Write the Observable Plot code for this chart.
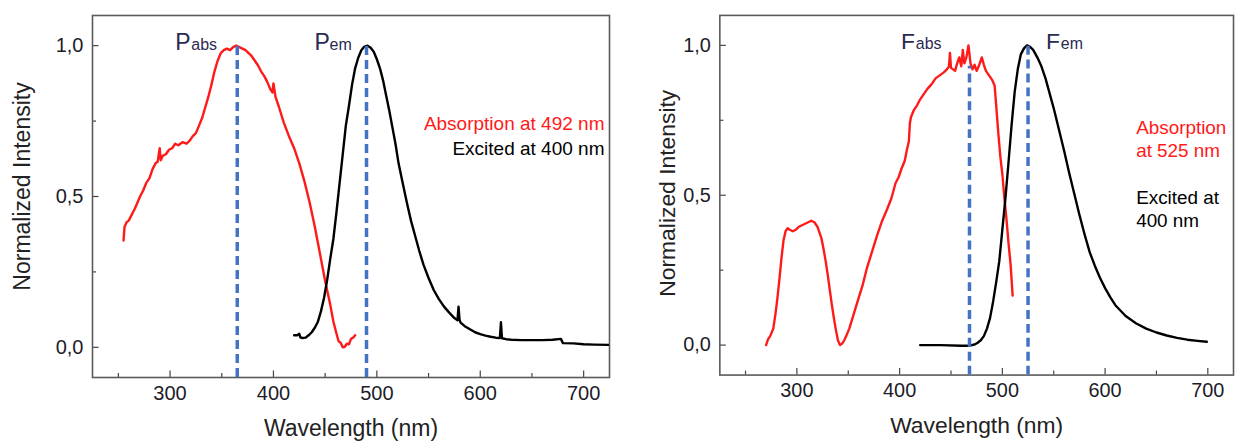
<!DOCTYPE html>
<html><head><meta charset="utf-8">
<script src="https://cdn.jsdelivr.net/npm/d3@7"></script>
<script src="https://cdn.jsdelivr.net/npm/@observablehq/plot@0.6"></script>
<style>
html,body{margin:0;padding:0;background:#fff;overflow:hidden;width:1235px;height:441px}
#wrap{position:relative;width:1235px;height:441px;overflow:hidden}
.panel{position:absolute;top:0}
</style></head>
<body><div id="wrap"><div class="panel" id="p1" style="left:0px"></div><div class="panel" id="p2" style="left:618px"></div></div>
<script>
// ---- tick values ----
const xTicks = [300, 400, 500, 600, 700];
const xMinorTicks = [250, 350, 450, 550, 650];
const yTicks = [0, 0.5, 1.0];
const yMinorTicks = [0.25, 0.75];
const xTitle = "Wavelength (nm)";
const yTitle = "Normalized Intensity";

// ---- Left panel: P absorption (red) ----
const pAbsWl = [255,256,258,260,263,266,268,271,274,277,280,283,286,288,290,291,293,296,299,302,305,308,312,316,319,322,325,328,331,334,337,340,343,346,349,352,355,358,361,364,367,370,373,376,379,382,385,388,391,394,397,399,400,402,405,410,415,420,425,430,435,440,445,450,455,458,461,463,465,467,469,471,473,475,477,479];
const pAbsVal = [0.354,0.40,0.415,0.42,0.44,0.46,0.476,0.50,0.52,0.545,0.56,0.59,0.61,0.615,0.66,0.62,0.635,0.64,0.655,0.66,0.675,0.67,0.68,0.675,0.685,0.70,0.71,0.735,0.76,0.795,0.83,0.87,0.915,0.95,0.975,0.985,0.99,0.985,0.995,1.0,0.995,0.99,0.985,0.975,0.965,0.95,0.935,0.915,0.9,0.88,0.855,0.845,0.875,0.83,0.8,0.745,0.70,0.66,0.61,0.55,0.48,0.40,0.31,0.22,0.14,0.085,0.045,0.02,0.015,0.0,0.002,0.012,0.01,0.028,0.032,0.04];
// ---- Left panel: P emission (black) ----
const pEmWl = [420,423,425,426,428,431,434,437,440,443,446,449,452,455,458,461,464,467,470,473,476,479,482,485,488,491,494,497,500,503,506,509,512,515,518,521,525,529,533,537,541,545,550,555,560,565,570,575,578,579,580,581,585,590,595,600,605,610,615,619,620,621,625,630,640,650,660,670,678,680,690,700,710,724];
const pEmVal = [0.04,0.04,0.045,0.033,0.031,0.032,0.04,0.05,0.065,0.085,0.12,0.165,0.225,0.295,0.36,0.45,0.545,0.64,0.735,0.80,0.87,0.925,0.96,0.985,0.997,1.0,0.993,0.98,0.955,0.925,0.885,0.835,0.785,0.73,0.675,0.61,0.545,0.48,0.42,0.37,0.32,0.275,0.23,0.19,0.16,0.135,0.115,0.097,0.09,0.135,0.09,0.082,0.07,0.06,0.05,0.044,0.039,0.035,0.032,0.031,0.083,0.03,0.027,0.025,0.024,0.024,0.024,0.025,0.028,0.014,0.013,0.01,0.009,0.008];

// ---- Right panel: F absorption (red) ----
const fAbsWl = [270,272,274,277,279,281,283,285,287,289,291,293,296,299,302,305,308,311,314,317,320,322,324,326,328,330,332,334,336,338,340,342,344,346,348,351,355,359,364,368,373,378,383,388,392,396,399,402,405,407,409,410,411,414,417,420,423,427,431,435,439,443,446,448,449,450,452,454,456,458,460,461.5,463,465,467,469,471,473,475,477,480,482,484,487,490,492.5,494,496,498,500,502,504,506,508,510];
const fAbsVal = [0.0,0.02,0.03,0.055,0.10,0.155,0.22,0.29,0.35,0.38,0.39,0.385,0.38,0.385,0.395,0.40,0.405,0.41,0.415,0.41,0.395,0.375,0.355,0.32,0.28,0.235,0.185,0.135,0.09,0.05,0.015,0.0,0.005,0.015,0.03,0.055,0.10,0.145,0.2,0.255,0.31,0.365,0.415,0.455,0.49,0.54,0.56,0.59,0.615,0.65,0.68,0.74,0.76,0.785,0.80,0.82,0.835,0.855,0.87,0.89,0.90,0.91,0.92,0.93,0.975,0.925,0.92,0.915,0.94,0.96,0.93,0.985,0.94,0.96,1.0,0.94,0.92,0.935,0.915,0.93,0.96,0.935,0.915,0.9,0.885,0.865,0.8,0.71,0.63,0.57,0.49,0.42,0.34,0.27,0.165];
// ---- Right panel: F emission (black) ----
const fEmWl = [420,440,460,468,473,476,479,482,485,488,491,494,497,500,503,506,509,512,515,518,521,524,527,530,534,538,542,546,550,555,560,565,570,575,580,585,590,595,600,605,610,620,630,640,650,660,670,680,690,699];
const fEmVal = [0.0,0.0,-0.002,-0.002,0.002,0.008,0.016,0.03,0.055,0.09,0.145,0.21,0.28,0.385,0.49,0.61,0.735,0.845,0.92,0.97,0.99,1.0,0.995,0.985,0.96,0.93,0.89,0.84,0.79,0.72,0.65,0.575,0.505,0.435,0.37,0.31,0.265,0.225,0.19,0.16,0.133,0.097,0.073,0.055,0.042,0.032,0.024,0.018,0.014,0.011];

// ---- peak markers ----
const pPeakWl = [365, 490];
const pPeakTop = [1.0, 1.0];
const fPeakWl = [468, 525];
const fPeakTop = [0.93, 1.0];

// ---- annotation texts ----
const pLabels = [["P", "abs"], ["P", "em"]];
const fLabels = [["F", "abs"], ["F", "em"]];
const pLegend = ["Absorption at 492 nm", "Excited at 400 nm"];
const fLegend = ["Absorption\nat 525 nm", "Excited at\n400 nm"];

const zip = (a, b) => a.map((x, i) => ({wl: x, v: b[i]}));
const fmtY = d => d.toFixed(1).replace(".", ",");
const FONT = "'Liberation Sans', Arial, Helvetica, sans-serif";
const RED = "#ff1a1a", BLUE = "#4472c4", NAVY = "#2a2a52", TXT = "#1c1c28";
const X_DOMAIN = [225, 725], Y_DOMAIN = [-0.1, 1.1];
const PLOT_W = 517, PLOT_H = 362;   // inner frame size in px
const xPerPx = (X_DOMAIN[1] - X_DOMAIN[0]) / PLOT_W;
const yPerPx = (Y_DOMAIN[1] - Y_DOMAIN[0]) / PLOT_H;

function panel({marginLeft, marginRight, absData, emData, peaks, labels, labelDx, legendMarks, yTitleDx, yTitleDy}) {
  const y0 = Y_DOMAIN[0], x0 = X_DOMAIN[0];
  const marks = [
    Plot.ruleX(xTicks, {x: d => d, y1: y0, y2: y0 + 6.5 * yPerPx, stroke: "#444", strokeWidth: 1.2}),
    Plot.ruleX(xMinorTicks, {x: d => d, y1: y0, y2: y0 + 4 * yPerPx, stroke: "#444", strokeWidth: 1.2}),
    Plot.ruleY(yTicks, {y: d => d, x1: x0, x2: x0 + 6.5 * xPerPx, stroke: "#444", strokeWidth: 1.2}),
    Plot.ruleY(yMinorTicks, {y: d => d, x1: x0, x2: x0 + 4 * xPerPx, stroke: "#444", strokeWidth: 1.2}),
    Plot.frame({stroke: "#5a5a5a", strokeWidth: 1.6}),
    Plot.axisX(xTicks, {anchor: "bottom", tickSize: 0, tickPadding: 8, fontSize: 20, tickFormat: d => String(d), label: null, fill: TXT}),
    Plot.axisY(yTicks, {anchor: "left", tickSize: 0, tickPadding: 9, fontSize: 20, tickFormat: fmtY, label: null, fill: TXT}),
    Plot.text([xTitle], {frameAnchor: "bottom", dy: 51, textAnchor: "middle", lineAnchor: "middle", fontSize: 23, fill: "#222", text: d => d}),
    Plot.text([yTitle], {frameAnchor: "left", dx: yTitleDx, dy: yTitleDy, rotate: -90, textAnchor: "middle", lineAnchor: "middle", fontSize: 23, fill: "#222", text: d => d}),
    Plot.line(absData, {x: "wl", y: "v", stroke: RED, strokeWidth: 2.4, clip: true}),
    Plot.line(emData, {x: "wl", y: "v", stroke: "#000", strokeWidth: 2.4, clip: true}),
    Plot.ruleX(peaks, {x: "wl", y1: y0, y2: "v", stroke: BLUE, strokeWidth: 3.5, strokeDasharray: "9,5"}),
  ];
  labels.forEach((lab, i) => {
    const pk = [peaks[i]];
    marks.push(Plot.text(pk, {x: "wl", frameAnchor: "top", dy: 34, dx: labelDx[i][0], textAnchor: "start", lineAnchor: "bottom", fontSize: 23, fill: NAVY, text: () => lab[0]}));
    marks.push(Plot.text(pk, {x: "wl", frameAnchor: "top", dy: 34, dx: labelDx[i][1], textAnchor: "start", lineAnchor: "bottom", fontSize: 16, fill: NAVY, text: () => lab[1]}));
  });
  marks.push(...legendMarks);
  return Plot.plot({
    width: marginLeft + PLOT_W + marginRight, height: 441,
    marginLeft, marginRight, marginTop: 15, marginBottom: 64,
    style: {fontFamily: FONT, background: "transparent", overflow: "visible"},
    x: {domain: X_DOMAIN, axis: null},
    y: {domain: Y_DOMAIN, axis: null},
    marks
  });
}

const p1 = panel({
  marginLeft: 92, marginRight: 8,
  absData: zip(pAbsWl, pAbsVal), emData: zip(pEmWl, pEmVal),
  peaks: zip(pPeakWl, pPeakTop), labels: pLabels,
  labelDx: [[-62, -46], [-52, -37]],
  yTitleDx: -70, yTitleDy: -10,
  legendMarks: [
    Plot.text([pLegend[0]], {frameAnchor: "top-right", dx: -5, dy: 114, textAnchor: "end", lineAnchor: "bottom", fontSize: 19, fill: RED, text: d => d}),
    Plot.text([pLegend[1]], {frameAnchor: "top-right", dx: -5, dy: 139, textAnchor: "end", lineAnchor: "bottom", fontSize: 19, fill: "#000", text: d => d})
  ]
});
const p2 = panel({
  marginLeft: 102, marginRight: 2,
  absData: zip(fAbsWl, fAbsVal), emData: zip(fEmWl, fEmVal),
  peaks: zip(fPeakWl, fPeakTop), labels: fLabels,
  labelDx: [[-69, -54], [18, 33]],
  yTitleDx: -53, yTitleDy: -2,
  legendMarks: [
    Plot.text([fLegend[0]], {frameAnchor: "top-right", dx: -98, dy: 103, textAnchor: "start", lineAnchor: "top", lineHeight: 1.22, fontSize: 19, fill: RED, text: d => d}),
    Plot.text([fLegend[1]], {frameAnchor: "top-right", dx: -98, dy: 173, textAnchor: "start", lineAnchor: "top", lineHeight: 1.22, fontSize: 19, fill: "#000", text: d => d})
  ]
});
document.getElementById("p1").appendChild(p1);
document.getElementById("p2").appendChild(p2);
</script>
</body></html>
